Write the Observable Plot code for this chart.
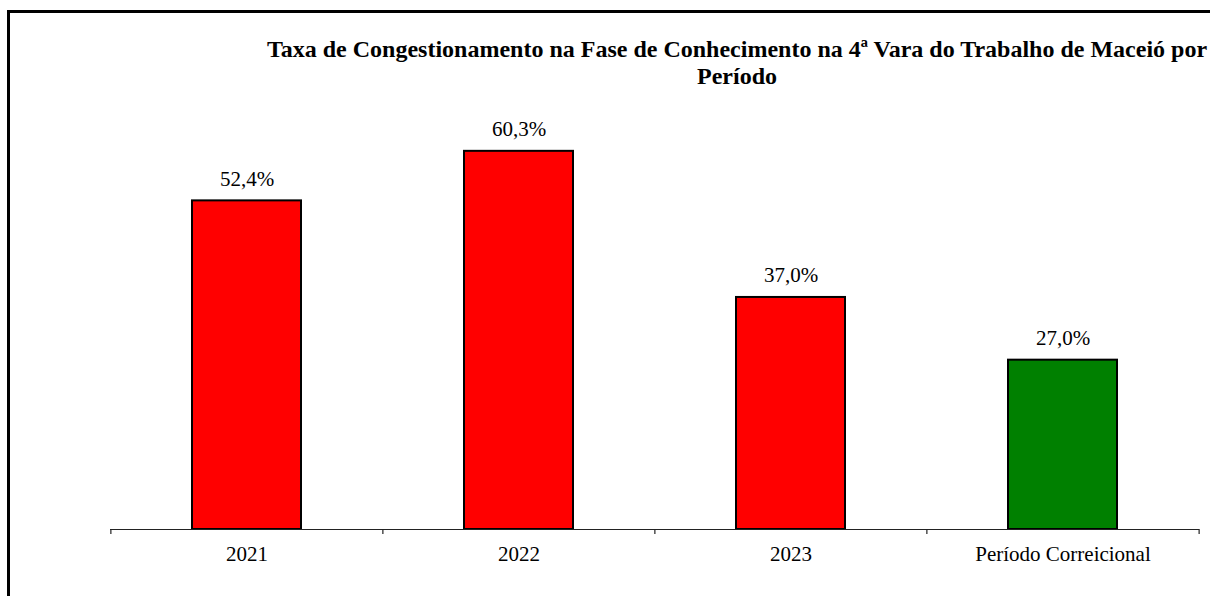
<!DOCTYPE html>
<html>
<head>
<meta charset="utf-8">
<script src="https://cdn.jsdelivr.net/npm/d3@7"></script>
<script src="https://cdn.jsdelivr.net/npm/@observablehq/plot@0.6"></script>
<style>
  html, body { margin: 0; padding: 0; background: #fff; overflow: hidden; }
  #wrap { position: relative; width: 1210px; height: 596px; overflow: hidden; background: #fff; }
  #frame { position: absolute; left: 7px; top: 10px; width: 1260px; height: 660px; border: 3px solid #000; box-sizing: border-box; pointer-events: none; }
  #title { position: absolute; left: 237px; width: 1000px; top: 36px; text-align: center; white-space: nowrap;
           font-family: "Liberation Serif", "Times New Roman", serif; font-weight: bold; font-size: 24px; line-height: 27px; color: #000; }
  #chart { position: absolute; left: 0; top: 0; }
</style>
</head>
<body>
<div id="wrap">
  <div id="chart"></div>
  <div id="title">Taxa de Congestionamento na Fase de Conhecimento na 4ª Vara do Trabalho de Maceió por<br>Período</div>
  <div id="frame"></div>
</div>
<script>
const categories = ["2021", "2022", "2023", "Período Correicional"];
const values = [52.4, 60.3, 37.0, 27.0];
const barColors = ["#ff0000", "#ff0000", "#ff0000", "#008000"];

const data = categories.map((c, i) => ({ category: c, value: values[i], color: barColors[i] }));

const width = 1210, height = 596;
const marginLeft = 110, marginRight = 11;
const band = (width - marginLeft - marginRight) / categories.length;
const pxPerUnit = (596 - 67 - 90) / 70;

const chart = Plot.plot({
  width, height,
  marginLeft, marginRight, marginTop: 90, marginBottom: 67,
  style: { fontFamily: "'Liberation Serif', 'Times New Roman', serif", fontSize: "21px", color: "#000", background: "transparent" },
  x: { domain: categories, paddingInner: 0.6, paddingOuter: 0.3, label: null },
  y: { domain: [0, 70], axis: null },
  marks: [
    Plot.barY(data, { x: "category", y: "value", fill: "color", stroke: "#000", strokeWidth: 2 }),
    Plot.ruleY([0], { stroke: "#222", strokeWidth: 1.2 }),
    Plot.ruleX(categories, { x: d => d, dx: -band / 2, y1: 0, y2: -5 / pxPerUnit, stroke: "#222", strokeWidth: 1.2 }),
    Plot.ruleX([categories[categories.length - 1]], { x: d => d, dx: band / 2, y1: 0, y2: -5 / pxPerUnit, stroke: "#222", strokeWidth: 1.2 }),
    Plot.text(data, { x: "category", y: "value", text: d => d.value.toFixed(1).replace(".", ",") + "%", dy: -15, lineAnchor: "bottom", fontSize: 21, fill: "#000" }),
    Plot.axisX({ tickSize: 0, tickPadding: 17, fontSize: 21, fill: "#000", label: null })
  ]
});
document.getElementById("chart").appendChild(chart);
</script>
</body>
</html>
